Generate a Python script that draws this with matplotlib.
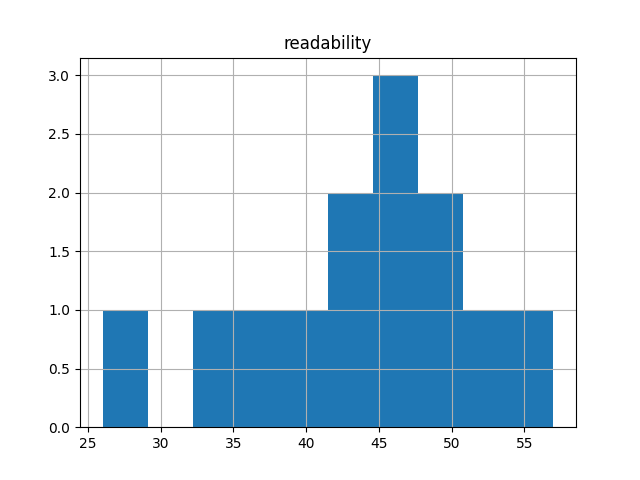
import matplotlib
matplotlib.use("Agg")
import matplotlib.pyplot as plt

title = "readability"
readability = [26.0, 34, 37, 40, 42, 43, 45, 46, 47, 49, 50, 52, 57.0]

fig, ax = plt.subplots(figsize=(6.4, 4.8), dpi=100)
ax.hist(readability, bins=10, color="#1f77b4")
ax.grid(True)
ax.set_title(title)
fig.savefig("out.png")
